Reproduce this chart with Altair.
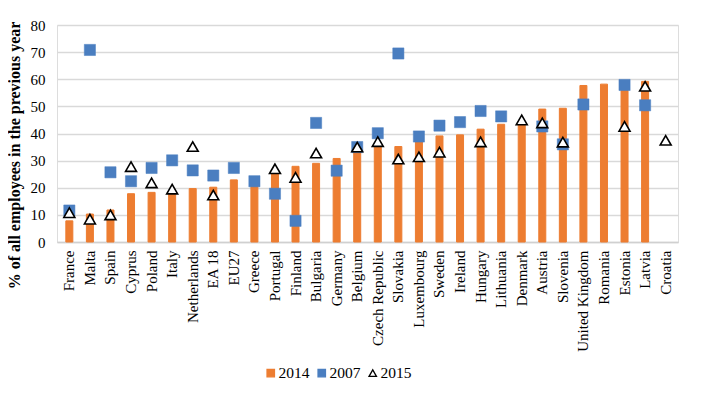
import altair as alt
import pandas as pd

countries = ["France", "Malta", "Spain", "Cyprus", "Poland", "Italy", "Netherlands", "EA 18",
             "EU27", "Greece", "Portugal", "Finland", "Bulgaria", "Germany", "Belgium",
             "Czech Republic", "Slovakia", "Luxembourg", "Sweden", "Ireland", "Hungary",
             "Lithuania", "Denmark", "Austria", "Slovenia", "United Kingdom", "Romania",
             "Estonia", "Latvia", "Croatia"]
v2014 = [7.8, 10.3, 11.8, 17.8, 18.3, 18.0, 19.7, 20.2, 22.9, 21.5, 25.5, 27.9, 29.0, 30.8, 33.5,
         35.5, 35.2, 37.0, 39.1, 39.5, 41.6, 43.4, 43.5, 49.0, 49.3, 57.7, 58.2, 57.0, 59.2, None]
v2007 = [11.6, 70.8, 25.7, 22.4, 27.3, 30.1, 26.4, 24.5, 27.3, 22.4, 17.8, 7.8, 43.9, 26.3, 35.0,
         40.1, 69.5, 38.9, 42.9, 44.2, 48.3, 46.3, None, 42.6, 36.0, 50.7, None, 57.9, 50.4, None]
v2015 = [10.8, 8.4, 10.0, 27.8, 21.8, 19.5, 35.2, 17.3, None, None, 27.0, 23.8, 32.8, None, 35.0,
         37.0, 30.6, 31.4, 33.1, None, 36.9, None, 45.0, 43.9, 36.8, None, None, 42.6, 57.4, 37.5]
series = ["2014", "2007", "2015"]

rows = []
for name, vals in zip(series, [v2014, v2007, v2015]):
    for c, v in zip(countries, vals):
        if v is not None:
            rows.append({"country": c, "series": name, "value": v})
df = pd.DataFrame(rows)

font = "Liberation Serif"
fill_scale = alt.Scale(domain=series, range=["#ED7D31", "#4A7EC0", "white"])
stroke_scale = alt.Scale(domain=series, range=["#ED7D31", "#4A7EC0", "black"])
shape_scale = alt.Scale(domain=series, range=["square", "square", "triangle-up"])

legend = alt.Legend(title=None, orient="none", direction="horizontal", legendX=206, legendY=340,
                    labelFont=font, labelFontSize=15.5, labelColor="black", symbolSize=55,
                    columnPadding=4, labelOffset=0, symbolStrokeWidth=1.3)

x = alt.X("country:N", sort=countries, title=None,
          scale=alt.Scale(paddingInner=0, paddingOuter=0.1),
          axis=alt.Axis(labelAngle=270, labelAlign="right", labelBaseline="middle",
                        labelFont=font, labelFontSize=15, labelColor="black", labelPadding=8,
                        ticks=False, domainColor="#d0d0d0", domainWidth=1.5, labelOverlap=False))
y = alt.Y("value:Q", scale=alt.Scale(domain=[0, 80]),
          title="% of all employees in the previous year",
          axis=alt.Axis(values=list(range(0, 81, 10)), grid=True, gridColor="#d9d9d9",
                        gridWidth=1.3, domain=False, ticks=False, labelFont=font,
                        labelFontSize=15, labelColor="black", labelPadding=12,
                        titleFont=font, titleFontSize=16, titleFontWeight="bold",
                        titleColor="black", titleAngle=270, titleX=-43, titleY=130,
                        titleAlign="center", titleBaseline="middle"))

bars = alt.Chart(df).transform_filter(alt.datum.series == "2014").mark_bar(size=7).encode(
    x=x, y=y,
    fill=alt.Fill("series:N", scale=fill_scale, legend=legend),
    stroke=alt.Stroke("series:N", scale=stroke_scale, legend=legend),
)
points = alt.Chart(df).transform_filter(alt.datum.series != "2014").mark_point(
    filled=False, strokeWidth=1.6, opacity=1).encode(
    x=x, y=y,
    fill=alt.Fill("series:N", scale=fill_scale, legend=legend),
    stroke=alt.Stroke("series:N", scale=stroke_scale, legend=legend),
    shape=alt.Shape("series:N", scale=shape_scale, legend=legend),
    size=alt.condition(alt.datum.series == "2007", alt.value(125), alt.value(120)),
    strokeWidth=alt.condition(alt.datum.series == "2007", alt.value(0.5), alt.value(1.6)),
)

chart = alt.layer(bars, points).properties(
    width=621, height=217,
    autosize=alt.AutoSizeParams(type="none"),
    padding={"left": 49, "top": 17, "right": 24, "bottom": 150},
).configure_view(stroke=None).configure(background="white")

chart.save("out.html", embed_options={"renderer": "svg", "actions": False})
